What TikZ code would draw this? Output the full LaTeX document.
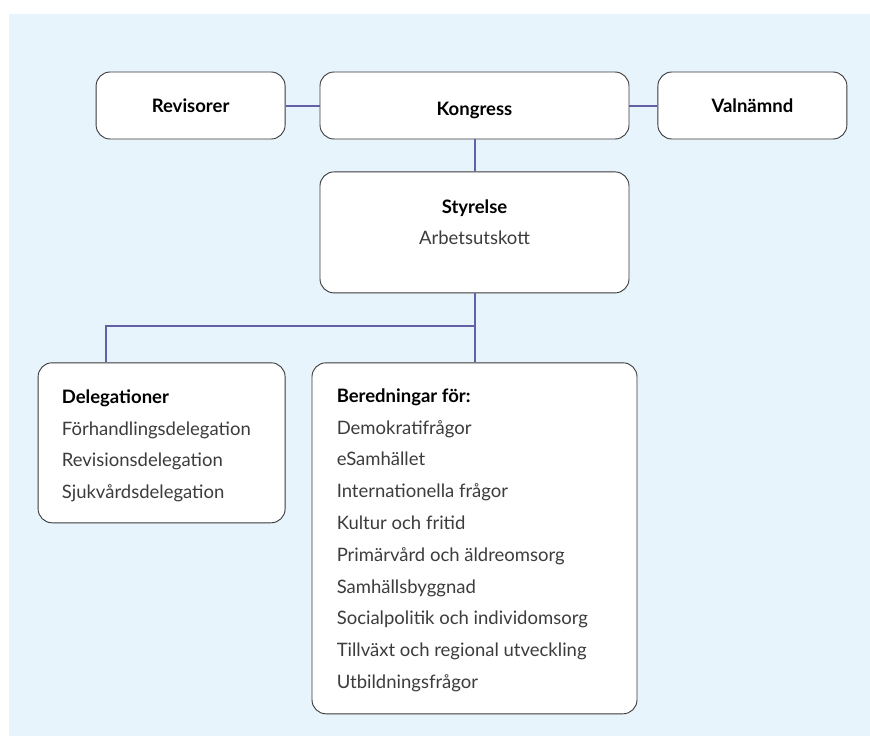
\documentclass[tikz,border=0pt]{standalone}
\usepackage{fontspec}
\setmainfont{Lato}
\usetikzlibrary{positioning}
\definecolor{bgblue}{HTML}{E8F4FC}
\definecolor{linkpurple}{HTML}{6560A6}
\definecolor{textgray}{HTML}{3C3C3C}
\definecolor{framegray}{HTML}{3A3A3A}
\tikzset{
    box/.style={draw=framegray, line width=0.9pt, fill=white, rounded corners=14pt, inner sep=0pt},
    head/.style={font=\fontsize{18.5}{31.8}\selectfont\bfseries},
    plain/.style={text=textgray, font=\fontsize{18.5}{31.8}\selectfont},
    list/.style={plain, align=left, inner sep=0pt},
    link/.style={draw=linkpurple, line width=2pt}
}
\begin{document}
\begin{tikzpicture}[x=1pt, y=-1pt]
            \useasboundingbox (0,0) rectangle (870,736);
            \fill[bgblue] (9,14) rectangle (870,736);

            % top row
            \node[box, minimum width=309pt, minimum height=67pt, head, text height=19pt, text depth=0pt] (kongress) at (474.5,105.5) {Kongress};
            \node[box, minimum width=189pt, minimum height=67pt, head, text height=13pt, text depth=0pt, left=34pt of kongress] (revisorer) {Revisorer};
            \node[box, minimum width=189pt, minimum height=67pt, head, text height=13pt, text depth=0pt, right=28pt of kongress] (valnamnd) {Valnämnd};

            % styrelse
            \node[box, minimum width=309pt, minimum height=121pt, below=32pt of kongress] (styrelse) {};
            \node[head, inner sep=0pt, below=42pt of styrelse.north, anchor=base] (styrelse_t) {Styrelse};
            \node[plain, inner sep=0pt, below=31pt of styrelse_t.base, anchor=base] (arbetsutskott) {Arbetsutskott};

            % lower row
            \node[box, minimum width=325pt, minimum height=351pt, below=69pt of styrelse] (beredn) {};
            \node[box, minimum width=247pt, minimum height=160pt, left=26pt of beredn.north west, anchor=north east] (deleg) {};

            \node[list, below right=27pt and 24pt of deleg.north west] (deleg_t) {%
                \textbf{\color{black}Delegationer}\\
                Förhandlingsdelegation\\
                Revisionsdelegation\\
                Sjukvårdsdelegation};
            \node[list, below right=26pt and 25pt of beredn.north west] (beredn_t) {%
                \textbf{\color{black}Beredningar för:}\\
                Demokratifrågor\\
                eSamhället\\
                Internationella frågor\\
                Kultur och fritid\\
                Primärvård och äldreomsorg\\
                Samhällsbyggnad\\
                Socialpolitik och individomsorg\\
                Tillväxt och regional utveckling\\
                Utbildningsfrågor};

            \coordinate[below=33pt of styrelse.south] (fork);
            \coordinate[right=68pt of deleg.north west] (deleg_in);

            \draw[link] (revisorer) -- (kongress);
            \draw[link] (kongress) -- (valnamnd);
            \draw[link] (kongress) -- (styrelse);
            \draw[link] (styrelse) -- (beredn);
            \draw[link] (fork) -| (deleg_in);
        \end{tikzpicture}
\end{document}
